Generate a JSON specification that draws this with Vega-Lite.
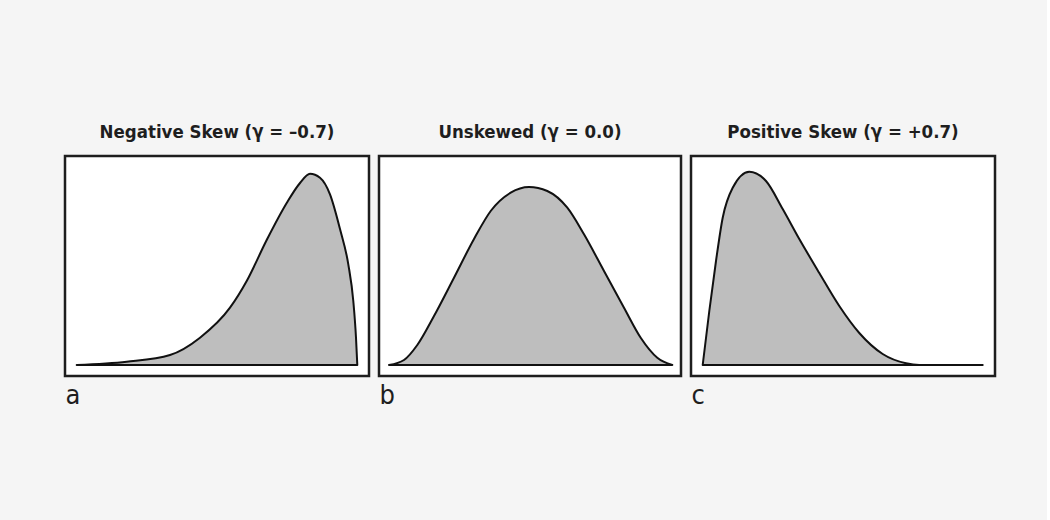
{
  "$schema": "https://vega.github.io/schema/vega-lite/v6.json",
  "background": "#f5f5f5",
  "padding": {"left": 63, "top": 121, "right": 50, "bottom": 112},
  "spacing": 6,
  "config": {
    "view": {"stroke": "#1e1e1e", "strokeWidth": 2.5, "fill": "white"},
    "title": {"font": "Liberation Sans Narrow, DejaVu Sans Condensed, sans-serif", "fontSize": 18.5, "fontWeight": "bold", "color": "#1e1e1e", "anchor": "middle", "baseline": "alphabetic", "offset": 15},
    "axisX": {"labels": false, "ticks": false, "domain": false, "grid": false, "titleAnchor": "start", "titleFont": "Liberation Sans Narrow, DejaVu Sans Condensed, sans-serif", "titleFontSize": 27, "titleFontWeight": "normal", "titleColor": "#1e1e1e", "titleBaseline": "alphabetic", "titlePadding": 27}
  },
  "datasets": {
    "neg": [
      {"x": 11.7, "y": 11}, {"x": 61.7, "y": 14.3}, {"x": 105, "y": 21}, {"x": 135, "y": 38.3},
      {"x": 165, "y": 68.3}, {"x": 181.7, "y": 95}, {"x": 201.7, "y": 136}, {"x": 221.7, "y": 173},
      {"x": 235, "y": 193}, {"x": 245, "y": 202.3}, {"x": 255, "y": 198.3}, {"x": 265, "y": 181.7},
      {"x": 275, "y": 147}, {"x": 283.3, "y": 111.7}, {"x": 288.3, "y": 75}, {"x": 291, "y": 38.3},
      {"x": 292.3, "y": 11}
    ],
    "zero": [
      {"x": 10, "y": 11}, {"x": 25, "y": 16}, {"x": 38.3, "y": 31}, {"x": 55, "y": 60},
      {"x": 75, "y": 98.3}, {"x": 95, "y": 137}, {"x": 111.7, "y": 165}, {"x": 131.7, "y": 183.3},
      {"x": 150, "y": 189}, {"x": 168.3, "y": 185}, {"x": 188.3, "y": 168.3}, {"x": 205, "y": 141.7},
      {"x": 225, "y": 105}, {"x": 245, "y": 68.3}, {"x": 261.7, "y": 38.3}, {"x": 278.3, "y": 18.3},
      {"x": 293.3, "y": 11}
    ],
    "pos": [
      {"x": 11.7, "y": 11}, {"x": 18.3, "y": 65}, {"x": 25, "y": 115}, {"x": 31.7, "y": 158.3},
      {"x": 41.7, "y": 188.3}, {"x": 58.3, "y": 204.3}, {"x": 75, "y": 195}, {"x": 91.7, "y": 167},
      {"x": 108.3, "y": 137}, {"x": 128.3, "y": 103}, {"x": 148.3, "y": 70}, {"x": 168.3, "y": 43},
      {"x": 191.7, "y": 22}, {"x": 215, "y": 12.7}, {"x": 228.3, "y": 11}, {"x": 291.7, "y": 11}
    ]
  },
  "hconcat": [
    {
      "width": 304, "height": 220,
      "title": "Negative Skew (γ = –0.7)",
      "data": {"name": "neg"},
      "mark": {"type": "area", "interpolate": "monotone", "fill": "#bebebe", "stroke": "#111111", "strokeWidth": 2, "strokeJoin": "round"},
      "encoding": {
        "x": {"field": "x", "type": "quantitative", "scale": {"domain": [0, 304]}, "axis": {"title": "a"}},
        "y": {"field": "y", "type": "quantitative", "scale": {"domain": [0, 220]}, "axis": null},
        "y2": {"datum": 11}
      }
    },
    {
      "width": 302, "height": 220,
      "title": "Unskewed (γ = 0.0)",
      "data": {"name": "zero"},
      "mark": {"type": "area", "interpolate": "monotone", "fill": "#bebebe", "stroke": "#111111", "strokeWidth": 2, "strokeJoin": "round"},
      "encoding": {
        "x": {"field": "x", "type": "quantitative", "scale": {"domain": [0, 302]}, "axis": {"title": "b"}},
        "y": {"field": "y", "type": "quantitative", "scale": {"domain": [0, 220]}, "axis": null},
        "y2": {"datum": 11}
      }
    },
    {
      "width": 304, "height": 220,
      "title": "Positive Skew (γ = +0.7)",
      "data": {"name": "pos"},
      "mark": {"type": "area", "interpolate": "monotone", "fill": "#bebebe", "stroke": "#111111", "strokeWidth": 2, "strokeJoin": "round"},
      "encoding": {
        "x": {"field": "x", "type": "quantitative", "scale": {"domain": [0, 304]}, "axis": {"title": "c"}},
        "y": {"field": "y", "type": "quantitative", "scale": {"domain": [0, 220]}, "axis": null},
        "y2": {"datum": 11}
      }
    }
  ]
}
